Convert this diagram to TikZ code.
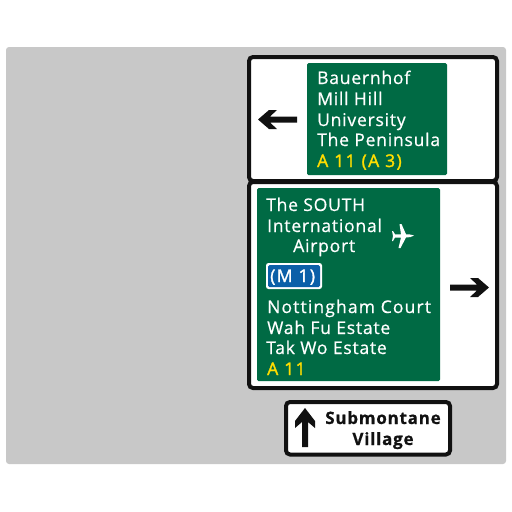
\documentclass[tikz,border=0pt]{standalone}
\usepackage{fontspec}
\setmainfont[LetterSpace=4.5,FakeBold=0.6]{Open Sans}
\newfontfamily\routefont[LetterSpace=8,FakeBold=1.6]{Open Sans}
\newfontfamily\wideplace[LetterSpace=6.5,FakeBold=0.6]{Open Sans}
\definecolor{signgreen}{HTML}{006A44}
\definecolor{signblue}{HTML}{0B5FA8}
\definecolor{signyellow}{HTML}{FFDD00}
\definecolor{signgrey}{HTML}{C8C8C8}
\definecolor{signblack}{HTML}{111111}
\tikzset{
  place/.style={inner sep=0pt, anchor=base west, text=white, font=\fontsize{17.5}{20}\selectfont},
  wide/.style={place, font=\fontsize{17.5}{20}\wideplace},
  route/.style={place, text=signyellow, font=\fontsize{17.5}{20}\routefont},
  panel/.style={draw=signblack, fill=white, line width=4pt, rounded corners=4pt},
  board/.style={fill=signgreen, rounded corners=1.5pt},
  blackplace/.style={inner sep=0pt, anchor=base, text=signblack, font=\fontsize{17}{20}\selectfont\bfseries}
}
\begin{document}
\begin{tikzpicture}[x=1pt, y=-1pt]
  \useasboundingbox (0,0) rectangle (512,512);
  \fill[signgrey, rounded corners=3pt] (6,47) rectangle (506,464);

  % --- top panel ---
  \draw[panel] (249,57) rectangle (497,181);
  \fill[board] (307,63) rectangle (447,175);
  \node[place] (bauernhof) at (317,84) {Bauernhof};
  \node[place] (millhill) at (317,105) {Mill Hill};
  \node[place] (university) at (317,126) {University};
  \node[place] (peninsula) at (317,146) {The Peninsula};
  \node[route] (routetop) at (317,167) {A 11 (A 3)};
  \fill[signblack] (258,119.5) -- (269,110) -- (277,110) -- (270,116.5) -- (297,116.5) -- (297,122.5)
    -- (270,122.5) -- (277,129) -- (269,129) -- cycle;

  % --- middle panel ---
  \draw[panel] (249,182) rectangle (497,388);
  \fill[board] (257,188) rectangle (440,381);
  \node[place] (south) at (266,211) {The SOUTH};
  \node[place] (international) at (267,232) {International};
  \node[place] (airport) at (293,252) {Airport};
  \node[wide] (nottingham) at (267,313) {Nottingham Court};
  \node[place] (wahfu) at (267,334) {Wah Fu Estate};
  \node[place] (takwo) at (266,354) {Tak Wo Estate};
  \node[route] (routemid) at (267,375) {A 11};
  \fill[white] (414,235.5) .. controls (412,234.5) and (409,234.3) .. (406,234.3) -- (401.5,224) -- (399.5,224) -- (401,234.3)
    -- (395,234.3) -- (393,231) -- (392,231) -- (393,236) -- (392,241) -- (393,241) -- (395,237.5) -- (401,237.5)
    -- (398.5,248) -- (400.5,248) -- (406,237.5) .. controls (409,237.5) and (412,237) .. (414,235.5) -- cycle;
  \fill[white, rounded corners=2.5pt] (266,263) rectangle (322,289);
  \fill[signblue, rounded corners=1.5pt] (268,265) rectangle (320,287);
  \node[route, text=white] (motorway) at (270,282) {(M 1)};
  \fill[signblack] (489,287.5) -- (478,278) -- (470,278) -- (477,284.5) -- (450,284.5) -- (450,290.5)
    -- (477,290.5) -- (470,297) -- (478,297) -- cycle;

  % --- bottom panel ---
  \draw[panel] (286,402) rectangle (450,454.5);
  \node[blackplace] (submontane) at (383,424) {Submontane};
  \node[blackplace] (village) at (383,445) {Village};
  \fill[signblack] (305,408) -- (315,421) -- (315,428) -- (308,422) -- (308,447) -- (302,447) -- (302,422)
    -- (295,428) -- (295,421) -- cycle;
\end{tikzpicture}
\end{document}
